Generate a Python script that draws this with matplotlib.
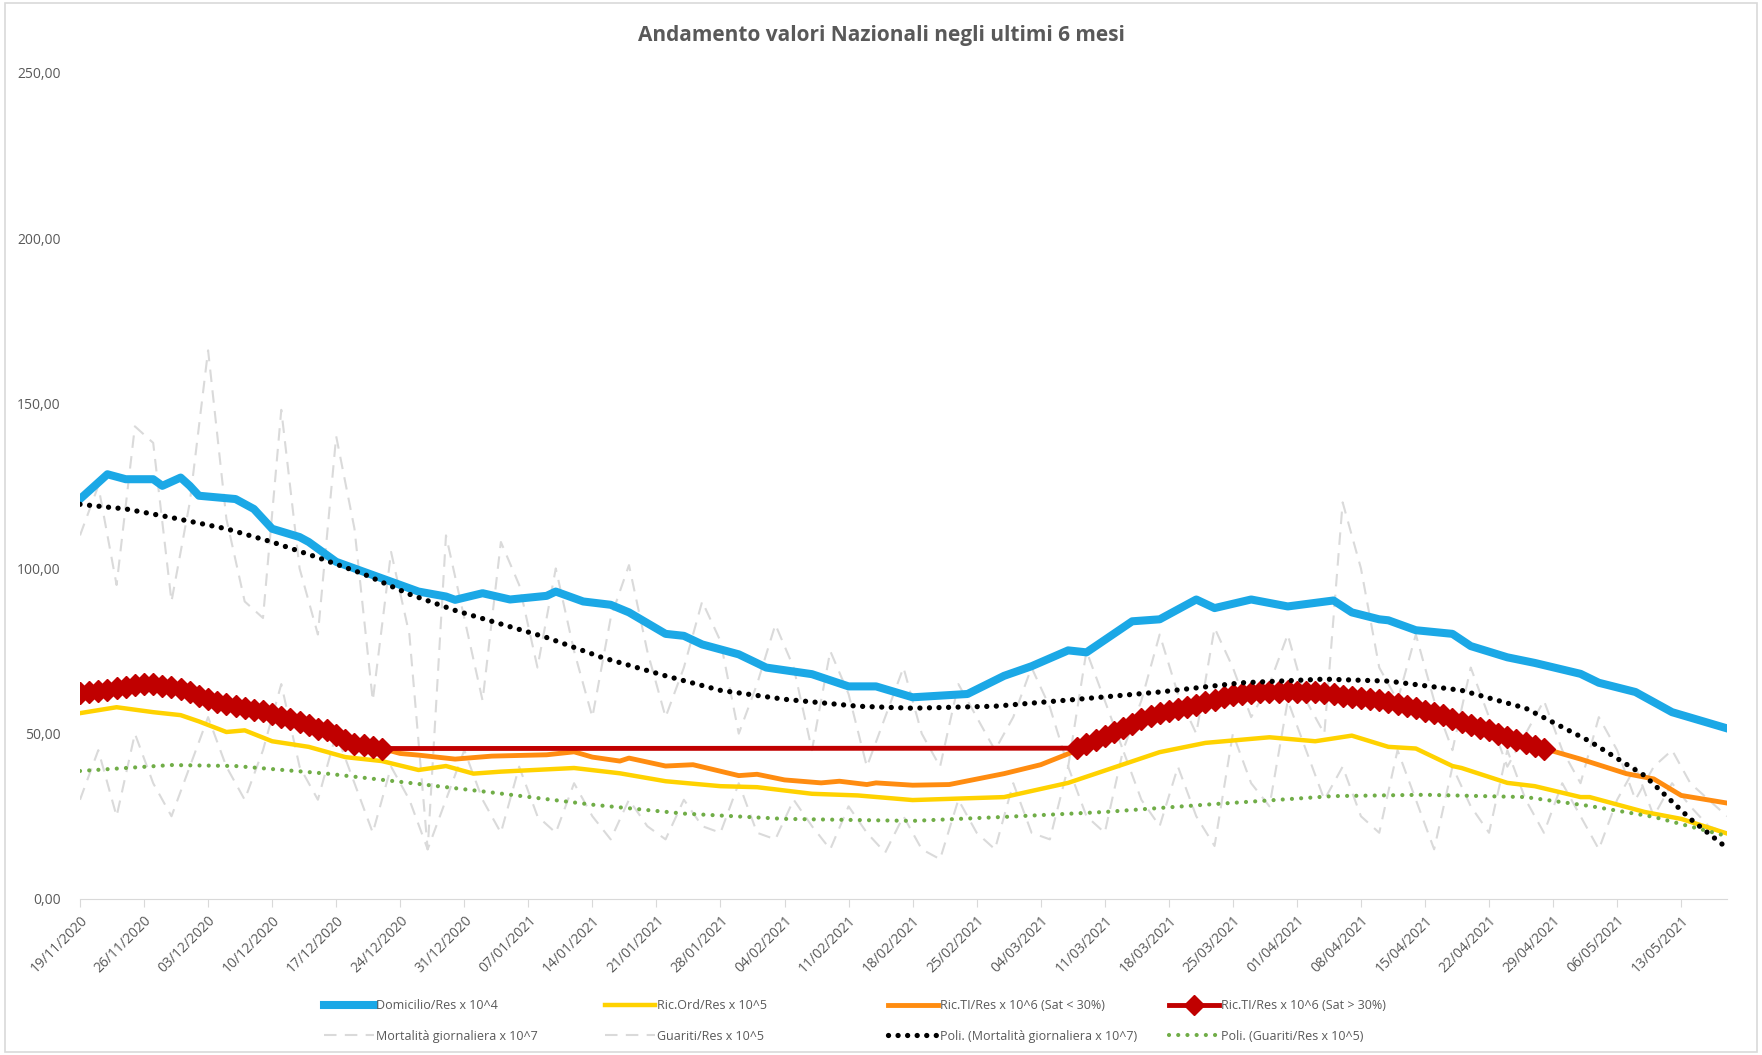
#Andamento valori nazionali - ultimi 6 mesi
import pandas as pd
import matplotlib.pyplot as plt
from matplotlib import font_manager
from matplotlib.lines import Line2D
from matplotlib.patches import Rectangle

names = {f.name for f in font_manager.fontManager.ttflist}
fam = 'Liberation Sans Narrow' if 'Liberation Sans Narrow' in names else 'Open Sans'
plt.rcParams['font.family'] = [fam, 'DejaVu Sans']

# Domicilio/Res x 10^4
dom_dates = ['2020-11-19', '2020-11-22', '2020-11-24', '2020-11-27', '2020-11-28', '2020-11-30',
             '2020-12-01', '2020-12-02', '2020-12-06', '2020-12-08', '2020-12-10', '2020-12-13',
             '2020-12-14', '2020-12-17', '2020-12-20', '2020-12-23', '2020-12-26', '2020-12-29',
             '2020-12-30', '2021-01-02', '2021-01-05', '2021-01-09', '2021-01-10', '2021-01-13',
             '2021-01-16', '2021-01-18', '2021-01-22', '2021-01-24', '2021-01-26', '2021-01-30',
             '2021-02-02', '2021-02-07', '2021-02-11', '2021-02-14', '2021-02-18', '2021-02-21',
             '2021-02-24', '2021-02-28', '2021-03-03', '2021-03-07', '2021-03-09', '2021-03-14',
             '2021-03-17', '2021-03-21', '2021-03-23', '2021-03-27', '2021-03-31', '2021-04-05',
             '2021-04-07', '2021-04-10', '2021-04-11', '2021-04-14', '2021-04-18', '2021-04-20',
             '2021-04-24', '2021-04-27', '2021-05-02', '2021-05-04', '2021-05-08', '2021-05-12',
             '2021-05-18']
dom_vals = [121, 128.5, 127, 127, 125, 127.5,
            125, 122, 121, 118, 112, 109.5,
            108, 102, 99, 96, 93, 91.5,
            90.5, 92.5, 90.6, 91.7, 93, 90,
            89, 86.7, 80.2, 79.6, 77, 74,
            70, 68, 64.3, 64.3, 61, 61.5,
            62, 67.5, 70.4, 75.2, 74.6, 84,
            84.6, 90.6, 88, 90.6, 88.5, 90.3,
            86.7, 84.6, 84.3, 81.3, 80.2, 76.5,
            73.1, 71.4, 68.1, 65.4, 62.6, 56.5,
            51.6]

# Ric.Ord/Res x 10^5
ord_dates = ['2020-11-19', '2020-11-23', '2020-11-27', '2020-11-30', '2020-12-02', '2020-12-05',
             '2020-12-07', '2020-12-10', '2020-12-14', '2020-12-18', '2020-12-22', '2020-12-26',
             '2020-12-29', '2021-01-01', '2021-01-04', '2021-01-12', '2021-01-17', '2021-01-22',
             '2021-01-28', '2021-02-01', '2021-02-07', '2021-02-12', '2021-02-18', '2021-02-28',
             '2021-03-07', '2021-03-17', '2021-03-22', '2021-03-29', '2021-04-03', '2021-04-07',
             '2021-04-11', '2021-04-14', '2021-04-18', '2021-04-19', '2021-04-24', '2021-04-27',
             '2021-05-02', '2021-05-03', '2021-05-09', '2021-05-13', '2021-05-18']
ord_vals = [56.2, 58, 56.5, 55.6, 53.7, 50.5,
            51, 47.7, 46, 42.9, 41.7, 39,
            40.2, 37.9, 38.5, 39.6, 38, 35.6,
            34.1, 33.8, 31.8, 31.3, 29.9, 30.8,
            35.1, 44.4, 47.2, 48.9, 47.7, 49.4,
            46, 45.5, 40.2, 39.6, 35.1, 34.1,
            30.8, 30.8, 26.3, 24.2, 19.8]

# Ric.TI/Res x 10^6 (Sat < 30%) - two stretches
ti_low1_dates = ['2020-12-22', '2020-12-24', '2020-12-26', '2020-12-30', '2021-01-03', '2021-01-09',
                 '2021-01-12', '2021-01-14', '2021-01-17', '2021-01-18', '2021-01-22', '2021-01-25',
                 '2021-01-30', '2021-02-01', '2021-02-04', '2021-02-08', '2021-02-10', '2021-02-13',
                 '2021-02-14', '2021-02-18', '2021-02-22', '2021-02-28', '2021-03-04', '2021-03-08']
ti_low1_vals = [45.5, 44, 43.5, 42.3, 43.2, 43.6,
                44.5, 42.9, 41.7, 42.6, 40.2, 40.6,
                37.3, 37.7, 36, 35.1, 35.6, 34.6,
                35.1, 34.4, 34.6, 37.9, 40.6, 45]
ti_low2_dates = ['2021-04-28', '2021-05-02', '2021-05-07', '2021-05-10', '2021-05-13', '2021-05-18']
ti_low2_vals = [45.5, 42.3, 37.9, 36.3, 31.3, 29]

# Ric.TI/Res x 10^6 (Sat > 30%) - daily values, 19/11-22/12 and 08/03-28/04
ti_high1_vals = [62.3, 62.5, 63, 63.3, 63.7, 64.2, 64.6, 65, 65, 64.5,
                 64, 63.5, 62.5, 61.5, 60.5, 59.7, 59, 58.3, 57.8, 57.3,
                 56.8, 56, 55, 54.5, 53.5, 52.5, 51.5, 51, 49.5, 48,
                 47, 46.5, 46, 45.5]
ti_high2_vals = [45.6, 46.8, 48, 49.4, 50.5, 51.8, 53, 54.5, 55.3, 56.2,
                 57, 57.5, 58, 58.6, 59.5, 60.2, 61, 61.7, 62, 62.3,
                 62.5, 62.6, 62.7, 62.8, 62.7, 62.6, 62.5, 62.3, 62, 61.5,
                 61, 60.8, 60.5, 60.2, 59.7, 59, 58.5, 57.8, 57, 56.3,
                 55.5, 54.5, 53.6, 52.7, 51.8, 51, 50, 49, 48, 47.2,
                 46.3, 45.5]

# Mortalita giornaliera x 10^7 and Guariti/Res x 10^5 (every 2 days)
mort_vals = [110, 125, 95, 143, 138, 90, 120, 166, 115, 90,
             85, 148, 100, 80, 140, 112, 60, 105, 80, 15,
             110, 85, 60, 108, 95, 70, 100, 75, 55, 85,
             101, 75, 55, 70, 90, 78, 50, 65, 83, 70,
             45, 75, 62, 40, 55, 70, 50, 40, 65, 55,
             45, 55, 70, 58, 40, 75, 60, 45, 60, 80,
             62, 50, 82, 70, 55, 65, 80, 60, 50, 120,
             100, 70, 60, 80, 60, 45, 70, 55, 40, 50,
             60, 45, 35, 55, 45, 30, 40, 45, 35, 30,
             25]
guar_vals = [30, 45, 25, 50, 35, 25, 40, 55, 40, 30,
             45, 65, 40, 30, 50, 35, 20, 40, 30, 15,
             30, 45, 30, 20, 40, 25, 20, 35, 25, 18,
             30, 22, 18, 30, 22, 20, 35, 20, 18, 30,
             22, 15, 28, 20, 14, 25, 15, 12, 30, 20,
             15, 35, 20, 18, 40, 25, 20, 45, 30, 22,
             40, 25, 16, 50, 35, 28, 60, 45, 30, 40,
             25, 20, 45, 30, 15, 40, 28, 20, 45, 30,
             20, 35, 25, 15, 30, 40, 25, 35, 28, 22,
             20]

# Poli. trendlines
polym_dates = ['2020-11-19', '2020-11-24', '2020-11-29', '2020-12-05', '2020-12-10', '2020-12-15',
               '2020-12-20', '2020-12-25', '2020-12-30', '2021-01-03', '2021-01-09', '2021-01-15',
               '2021-01-22', '2021-01-28', '2021-02-04', '2021-02-12', '2021-02-18', '2021-02-27',
               '2021-03-08', '2021-03-17', '2021-03-26', '2021-04-04', '2021-04-11', '2021-04-19',
               '2021-04-26', '2021-05-03', '2021-05-09', '2021-05-14', '2021-05-18']
polym_vals = [119.4, 118, 115.4, 112, 108, 103.3,
              98.3, 92.2, 87.3, 84, 79.1, 73.1,
              67.5, 63.1, 60.4, 58.3, 57.7, 58.3,
              60.4, 62.6, 65.4, 66.5, 65.9, 63.1,
              57.7, 47.7, 37.3, 24.2, 15.4]
polyg_dates = ['2020-11-19', '2020-11-29', '2020-12-06', '2020-12-16', '2020-12-25', '2021-01-03',
               '2021-01-14', '2021-01-24', '2021-02-04', '2021-02-18', '2021-02-28', '2021-03-11',
               '2021-03-22', '2021-04-05', '2021-04-15', '2021-04-26', '2021-05-03', '2021-05-10',
               '2021-05-18']
polyg_vals = [38.7, 40.5, 40.2, 37.9, 35.1, 32.2,
              28.5, 25.8, 24.2, 23.6, 24.8, 26.3,
              28.5, 31.1, 31.5, 30.8, 28.1, 24.8,
              19]

labels = ['Domicilio/Res x 10^4', 'Ric.Ord/Res x 10^5', 'Ric.TI/Res x 10^6 (Sat < 30%)',
          'Ric.TI/Res x 10^6 (Sat > 30%)', 'Mortalità giornaliera x 10^7', 'Guariti/Res x 10^5',
          'Poli. (Mortalità giornaliera x 10^7)', 'Poli. (Guariti/Res x 10^5)']

start = pd.Timestamp('2020-11-19')
gray_x = pd.date_range(start, periods=len(mort_vals), freq='2D')
hi1_x = pd.date_range(start, periods=len(ti_high1_vals), freq='D')
hi2_x = pd.date_range('2021-03-08', periods=len(ti_high2_vals), freq='D')

c_blue = '#1BA8E6'
c_yel = '#FFD200'
c_ora = '#FF8C10'
c_red = '#C00000'
c_gray = '#DADADA'
c_green = '#70AD47'
c_txt = '#595959'
gray_ls = (0, (6, 4))

fig = plt.figure(figsize=(17.62, 10.55), dpi=100)
ax = fig.add_axes([0.0454, 0.148, 0.9347, 0.783])

ax.plot(gray_x, mort_vals, color=c_gray, lw=1.5, ls=gray_ls, zorder=1)
ax.plot(gray_x, guar_vals, color=c_gray, lw=1.5, ls=gray_ls, zorder=1)
ax.plot(pd.to_datetime(dom_dates), dom_vals, color=c_blue, lw=5.8, solid_joinstyle='round', zorder=3)
ax.plot(pd.to_datetime(ord_dates), ord_vals, color=c_yel, lw=3.2, zorder=3)
ax.plot(pd.to_datetime(ti_low1_dates), ti_low1_vals, color=c_ora, lw=3.5, zorder=3)
ax.plot(pd.to_datetime(ti_low2_dates), ti_low2_vals, color=c_ora, lw=3.5, zorder=3)
ax.plot(list(hi1_x) + list(hi2_x), ti_high1_vals + ti_high2_vals, color=c_red, lw=3.5,
        marker='D', ms=11, mec=c_red, zorder=4)
ax.plot(pd.to_datetime(polym_dates), polym_vals, color='black', lw=3.8,
        ls=(0, (0.01, 1.8)), dash_capstyle='round', zorder=5)
ax.plot(pd.to_datetime(polyg_dates), polyg_vals, color=c_green, lw=3,
        ls=(0, (0.01, 2.2)), dash_capstyle='round', zorder=5)

ax.set_ylim(0, 250)
ax.set_xlim(start, pd.Timestamp('2021-05-18'))
ax.set_yticks(range(0, 251, 50))
ax.set_yticklabels([f'{v},00' for v in range(0, 251, 50)])
ticks = pd.date_range(start, '2021-05-13', freq='7D')
ax.set_xticks(ticks)
ax.set_xticklabels([d.strftime('%d/%m/%Y') for d in ticks], rotation=45, ha='right',
                   rotation_mode='anchor')
ax.tick_params(axis='y', length=0, pad=14, labelsize=10, labelcolor=c_txt)
ax.tick_params(axis='x', length=6, color='#D9D9D9', pad=4, labelsize=10, labelcolor=c_txt)
for s in ['top', 'right', 'left']:
    ax.spines[s].set_visible(False)
ax.spines['bottom'].set_color('#D9D9D9')

fig.text(0.5, 0.966, 'Andamento valori Nazionali negli ultimi 6 mesi', ha='center', va='center',
         fontsize=15, fontweight='bold', color=c_txt)

handles = [Line2D([], [], color=c_blue, lw=5.8),
           Line2D([], [], color=c_yel, lw=3.2),
           Line2D([], [], color=c_ora, lw=3.5),
           Line2D([], [], color=c_red, lw=3.5, marker='D', ms=10),
           Line2D([], [], color=c_gray, lw=1.5, ls=gray_ls),
           Line2D([], [], color=c_gray, lw=1.5, ls=gray_ls),
           Line2D([], [], color='black', lw=3.8, ls=(0, (0.01, 1.8)), dash_capstyle='round'),
           Line2D([], [], color=c_green, lw=3, ls=(0, (0.01, 2.2)), dash_capstyle='round')]

# one small legend per column, like the Excel legend grid
col_x = [0.1837, 0.3432, 0.5039, 0.6633]
for i, x in enumerate(col_x):
    fig.legend([handles[i], handles[i + 4]], [labels[i], labels[i + 4]],
               loc='center left', bbox_to_anchor=(x, 0.0323), frameon=False, fontsize=9,
               handlelength=4, handletextpad=0.15, labelcolor=c_txt, labelspacing=1.4,
               borderpad=0, borderaxespad=0)

fig.patches.append(Rectangle((0.003, 0.003), 0.994, 0.994, transform=fig.transFigure,
                             fill=False, edgecolor='#D9D9D9', lw=1.2))

plt.savefig('out.png', dpi=100)
